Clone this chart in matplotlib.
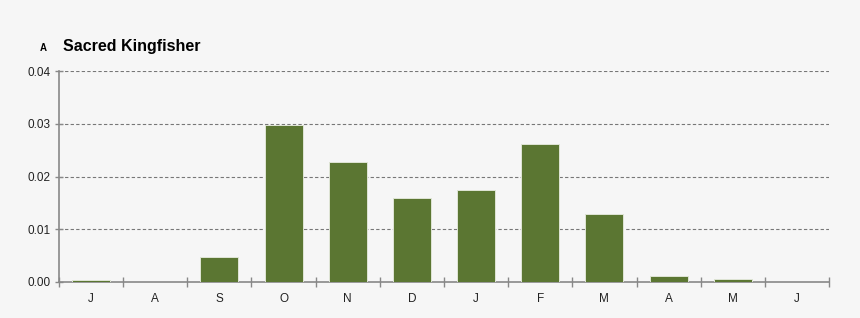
import matplotlib
matplotlib.use("Agg")
import matplotlib.pyplot as plt
import numpy as np

months = ["J", "A", "S", "O", "N", "D", "J", "F", "M", "A", "M", "J"]
values = [0.0003, 0.0, 0.0047, 0.0297, 0.0227, 0.0159, 0.0174, 0.0261, 0.0129, 0.0011, 0.0005, 0.0]
yticks = [0.00, 0.01, 0.02, 0.03, 0.04]

plt.rcParams['font.family'] = ['Liberation Sans', 'DejaVu Sans']
bg = '#f6f6f6'
fig = plt.figure(figsize=(8.6, 3.18), dpi=100, facecolor=bg)
ax = fig.add_axes([59/860, 1-282/318, (829-59)/860, (282-71)/318], facecolor=bg)

x = np.arange(len(months))
ax.bar(x, values, width=0.59, color='#5b7632', edgecolor='#dfe5d6', linewidth=0.7, zorder=3)

ax.set_xlim(-0.5, len(months)-0.5)
ax.set_ylim(0, 0.04)
ax.set_yticks(yticks)
ax.set_yticklabels([f"{v:.2f}" for v in yticks], fontsize=8.5, color='#222222')
ax.set_xticks(x)
ax.set_xticklabels(months, fontsize=8.5, color='#222222')
ax.tick_params(axis='x', length=0, pad=8)
ax.set_xticks(np.arange(-0.5, len(months)), minor=True)
ax.tick_params(axis='x', which='minor', direction='inout', length=7, color='#888888', width=1)
ax.tick_params(axis='y', direction='inout', length=6, color='#888888', width=1, pad=3)

for v in yticks[1:]:
    ax.axhline(v, color='#777777', linestyle=(0, (3, 2)), linewidth=0.8, zorder=1)

for s in ['top', 'right']:
    ax.spines[s].set_visible(False)
for s in ['left', 'bottom']:
    ax.spines[s].set_color('#888888')
    ax.spines[s].set_linewidth(1.2)

fig.text(40/860, 1-48/318, "A", fontsize=7, fontweight='bold', va='center', ha='left')
fig.text(63/860, 1-47/318, "Sacred Kingfisher", fontsize=11.5, fontweight='bold', va='center', ha='left')

fig.savefig("out.png", dpi=100, facecolor=bg)
